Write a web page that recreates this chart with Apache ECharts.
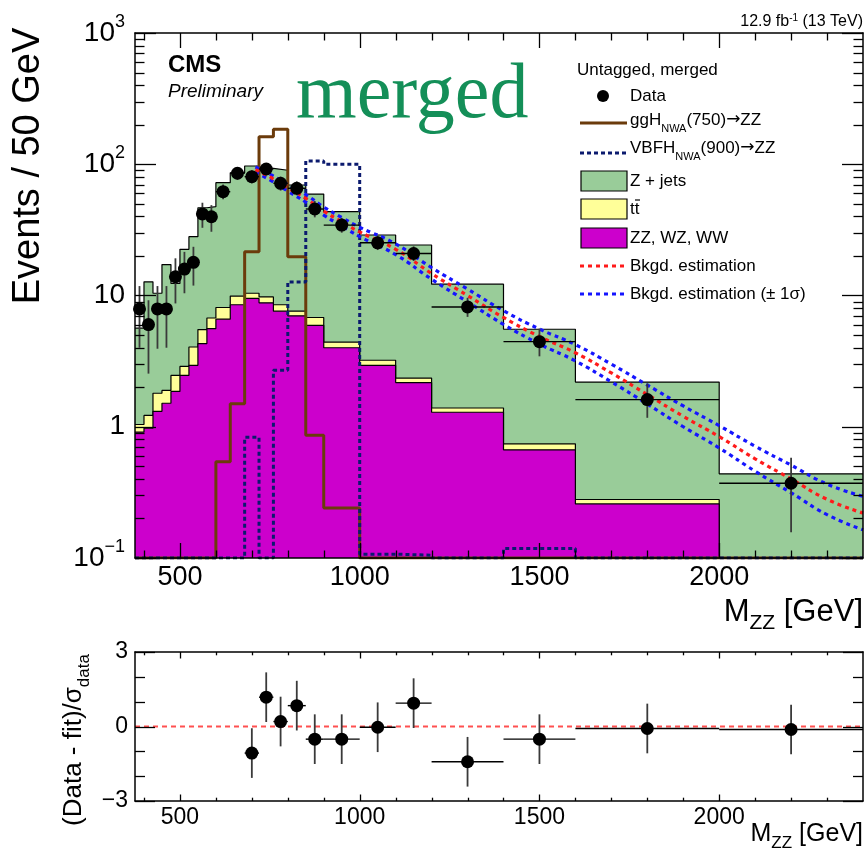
<!DOCTYPE html>
<html>
<head>
<meta charset="utf-8">
<script src="https://cdn.jsdelivr.net/npm/echarts@6/dist/echarts.min.js"></script>
<style>
  html, body { margin: 0; padding: 0; background: #fff; }
  #chart { width: 868px; height: 850px; }
</style>
</head>
<body>
<div id="chart"></div>
<script>
// ---- M_ZZ binning (GeV) ----
const binEdges = [375, 400, 425, 450, 475, 500, 525, 550, 575, 600, 640, 680, 720, 760, 800, 850, 900, 1000, 1100, 1200, 1400, 1600, 2000, 2400];

// ---- Stacked backgrounds, events / 50 GeV ----
const dibosonVV = [0.91, 0.975, 1.31, 1.51, 1.86, 2.46, 2.94, 4.3, 5.6, 6.6, 8.5, 9.5, 8.8, 7.6, 7.0, 5.93, 4.0, 2.94, 2.17, 1.29, 0.667, 0.258, 0];
const ttbar     = [0.13, 0.245, 0.49, 0.38, 0.6, 0.42, 1.11, 1.2, 1.14, 1.5, 1.4, 0.9, 0.95, 0.9, 0.6, 0.87, 0.42, 0.27, 0.18, 0.1, 0.074, 0.021, 0];
const zJets     = [4.6, 11.5, 8.6, 15.3, 9.9, 19.6, 24.0, 41.1, 40.8, 64.3, 76.1, 86.6, 83.3, 81.5, 61.9, 52.5, 39.1, 25.7, 21.9, 10.8, 4.79, 1.91, 0.438];

// ---- Signal templates ----
const ggH750  = [0, 0, 0, 0, 0, 0, 0, 0, 0, 0.54, 1.5, 21.5, 162, 185, 19.7, 0.86, 0.24, 0, 0, 0, 0, 0, 0];
const vbfH900 = [0, 0, 0, 0, 0, 0, 0, 0, 0, 0, 0, 0.83, 0, 2.69, 12.7, 106, 100, 0.107, 0.105, 0, 0.118, 0, 0];

// ---- Observed data (value, lower and upper end of the error bar) ----
const dataValue = [7.9, 6.0, 7.9, 7.9, 13.9, 15.9, 17.9, 41.8, 39.8, 61.8, 85.4, 80.4, 92, 71.6, 65.6, 45.6, 34.4, 25.2, 20.9, 8.18, 4.45, 1.61, 0.371];
const dataLow   = [4.0, 2.54, 3.93, 4.0, 8.7, 10.4, 11.9, 32.8, 30.6, 54, 76, 71.5, 82, 63, 58, 39.4, 30.1, 22.2, 18.3, 6.87, 3.44, 1.17, 0.157];
const dataHigh  = [11.8, 9.2, 11.8, 11.8, 19.2, 21.5, 23.5, 50.9, 48.8, 70, 95, 90, 102, 80.5, 74, 52.5, 39, 28.5, 23.7, 9.6, 5.6, 2.13, 0.58];

// ---- Background fit and its +/- 1 sigma envelope ----
const fitMass    = [710, 750, 800, 850, 900, 950, 1000, 1100, 1200, 1300, 1400, 1500, 1600, 1700, 1800, 1900, 2000, 2100, 2200, 2300, 2400];
const fitCentral = [91, 80, 66, 55, 44, 36.5, 30.5, 22.5, 14.7, 10.0, 6.8, 4.87, 3.66, 2.57, 1.76, 1.2, 0.84, 0.57, 0.40, 0.28, 0.22];
const fitUp      = [95.3, 84.2, 69.9, 58.7, 47.2, 39.3, 33.1, 24.7, 16.3, 11.2, 7.66, 5.55, 4.22, 3.0, 2.08, 1.44, 1.02, 0.71, 0.51, 0.366, 0.295];
const fitDown    = [86.9, 76.0, 62.3, 51.5, 41.0, 33.9, 28.1, 20.5, 13.3, 8.95, 6.03, 4.27, 3.17, 2.20, 1.49, 1.0, 0.69, 0.458, 0.314, 0.214, 0.164];

// ---- Pulls (Data - fit)/sigma_data ----
const pullLo   = [680, 720, 760, 800, 850, 900, 1000, 1100, 1200, 1400, 1600, 2000];
const pullHi   = [720, 760, 800, 850, 900, 1000, 1100, 1200, 1400, 1600, 2000, 2400];
const pullX    = [700, 740, 780, 825, 875, 950, 1050, 1150, 1300, 1500, 1800, 2200];
const pullVal  = [-1.07, 1.18, 0.2, 0.84, -0.51, -0.51, -0.03, 0.94, -1.42, -0.51, -0.08, -0.12];
const pullErr  = [1, 1, 1, 1, 1, 1, 1, 1, 1, 1, 1, 1];

// ---- Axis ranges and tick values ----
const X_MIN = 375, X_MAX = 2400;
const Y_MIN = 0.1, Y_MAX = 1000;
const xMajorTicks = [500, 1000, 1500, 2000];
const xMinorTicks = [400, 600, 700, 800, 900, 1100, 1200, 1300, 1400, 1600, 1700, 1800, 1900, 2100, 2200, 2300];
const yMajorTicks = [0.1, 1, 10, 100, 1000];
const yMinorMult  = [2, 3, 4, 5, 6, 7, 8, 9];
const pullMajorTicks = [-3, 0, 3];
const pullMinorTicks = [-2, -1, 1, 2];

const FONT = '"Liberation Sans", Arial, Helvetica, sans-serif';
const SERIF = '"Liberation Serif", "Times New Roman", "DejaVu Serif", serif';

const C_ZJ = '#99cc99', C_TT = '#ffff99', C_VV = '#cc00cc';
const C_GGH = '#6b3b0b', C_VBF = '#0b1a6e';
const C_FIT = '#ff1a1a', C_BAND = '#1515ff';

// step outline of a binned histogram, empty bins lie on the axis floor
function stepPoints(values) {
  const pts = [];
  values.forEach((v, i) => {
    const y = Math.max(v, Y_MIN);
    pts.push([binEdges[i], y], [binEdges[i + 1], y]);
  });
  return pts;
}

const stackVV = dibosonVV.slice();
const stackTT = dibosonVV.map((v, i) => v + ttbar[i]);
const stackZJ = stackTT.map((v, i) => v + zJets[i]);

function histSeries(name, values, fill, z) {
  return {
    type: 'line', name, xAxisIndex: 0, yAxisIndex: 0, z,
    data: stepPoints(values), symbol: 'none', showSymbol: false, silent: true,
    lineStyle: { color: '#000', width: 1.2 },
    areaStyle: { color: fill, opacity: 1, origin: 'start' }
  };
}

function lineSeries(name, points, color, width, type, smooth, z) {
  return {
    type: 'line', name, xAxisIndex: 0, yAxisIndex: 0, z,
    data: points, symbol: 'none', showSymbol: false, silent: true,
    smooth: smooth || false,
    lineStyle: { color, width, type: type || 'solid', cap: 'butt' }
  };
}

// tick marks drawn inside the frame on all four sides
function tickRenderer(lens) {
  return function (params, api) {
    const cs = params.coordSys;
    const kind = api.value(2);
    const p = api.coord([api.value(0), api.value(1)]);
    const L = lens[kind];
    const st = { stroke: '#000', lineWidth: 1.3 };
    if (kind < 2) {
      const x = Math.round(p[0]) + 0.5, yb = cs.y + cs.height, yt = cs.y;
      return { type: 'group', children: [
        { type: 'line', shape: { x1: x, y1: yb, x2: x, y2: yb - L }, style: st },
        { type: 'line', shape: { x1: x, y1: yt, x2: x, y2: yt + L }, style: st }
      ] };
    }
    const y = Math.round(p[1]) + 0.5, xl = cs.x, xr = cs.x + cs.width;
    return { type: 'group', children: [
      { type: 'line', shape: { x1: xl, y1: y, x2: xl + L, y2: y }, style: st },
      { type: 'line', shape: { x1: xr, y1: y, x2: xr - L, y2: y }, style: st }
    ] };
  };
}

function errorBarRenderer(params, api) {
  const xc = api.value(0), v = api.value(1);
  const lo = api.coord([xc, api.value(2)]);
  const hi = api.coord([xc, api.value(3)]);
  const l = api.coord([api.value(4), v]);
  const r = api.coord([api.value(5), v]);
  return { type: 'group', children: [
    { type: 'line', shape: { x1: lo[0], y1: lo[1], x2: hi[0], y2: hi[1] }, style: { stroke: '#3a3a3a', lineWidth: 1.8 } },
    { type: 'line', shape: { x1: l[0], y1: l[1], x2: r[0], y2: r[1] }, style: { stroke: '#000', lineWidth: 1.4 } }
  ] };
}

const mainTicks = [];
xMajorTicks.forEach(v => mainTicks.push([v, 1, 0]));
xMinorTicks.forEach(v => mainTicks.push([v, 1, 1]));
yMajorTicks.forEach(v => mainTicks.push([1000, v, 2]));
yMajorTicks.slice(0, -1).forEach(d => yMinorMult.forEach(k => mainTicks.push([1000, +(k * d).toPrecision(3), 3])));

const pullTicks = [];
xMajorTicks.forEach(v => pullTicks.push([v, 0, 0]));
xMinorTicks.forEach(v => pullTicks.push([v, 0, 1]));
pullMajorTicks.forEach(v => pullTicks.push([1000, v, 2]));
pullMinorTicks.forEach(v => pullTicks.push([1000, v, 3]));

const centers = binEdges.slice(0, -1).map((e, i) => (e + binEdges[i + 1]) / 2);
const dataRows = dataValue.map((v, i) => [centers[i], v, dataLow[i], dataHigh[i], binEdges[i], binEdges[i + 1]]);
const pullRows = pullVal.map((v, i) => [pullX[i], v, v - pullErr[i], v + pullErr[i], pullLo[i], pullHi[i]]);
const pairs = (xs, ys) => xs.map((x, i) => [x, ys[i]]);

function powLabel(v) {
  const e = Math.round(Math.log10(v));
  if (e === 0) return '1';
  if (e === 1) return '10';
  return '10{sup|' + (e < 0 ? '\u2212' + (-e) : e) + '}';
}

const frameLine = { show: true, onZero: false, lineStyle: { color: '#000', width: 1.5 } };

function xAxisCfg(gridIndex, position, labels) {
  return {
    type: 'value', gridIndex, position, min: X_MIN, max: X_MAX, z: 10,
    axisLine: frameLine, axisTick: { show: false }, splitLine: { show: false },
    axisLabel: labels ? Object.assign({
      customValues: xMajorTicks,
      formatter: v => (v % 500 === 0 ? String(v) : ''),
      color: '#000', fontFamily: FONT
    }, labels) : { show: false }
  };
}

// ---- text helpers ----
function txt(x, y, text, style, extra) {
  const s = Object.assign({ text, fill: '#000', fontFamily: FONT, fontSize: 17 }, style);
  s.textAlign = s.align = s.align || 'left';
  s.textVerticalAlign = s.verticalAlign = s.verticalAlign || 'middle';
  return Object.assign({ type: 'text', x, y, z: 20, silent: true, style: s }, extra);
}
function subRich(size) {
  return { sub: { fontSize: size, lineHeight: size, verticalAlign: 'bottom', fontFamily: FONT, fill: '#000' } };
}
const legendRich = Object.assign(subRich(11), {
  arr: { fontSize: 17, fontFamily: '"DejaVu Sans", sans-serif', fill: '#000' }
});

// ---- legend ----
const LX0 = 580, LX1 = 627, LTX = 630;
const rowY = [96, 124, 152, 181, 209, 238, 266, 294];
const legendItems = [
  txt(577, 70, 'Untagged, merged'),
  { type: 'circle', z: 20, silent: true, shape: { cx: 603, cy: rowY[0], r: 6 }, style: { fill: '#000' } },
  txt(LTX, rowY[0], 'Data'),
  { type: 'line', z: 20, silent: true, shape: { x1: LX0, y1: rowY[1] - 1, x2: LX1, y2: rowY[1] - 1 }, style: { stroke: C_GGH, lineWidth: 3 } },
  txt(LTX, rowY[1] - 4, 'ggH{sub|NWA}(750){arr|\u2192}ZZ', { lineHeight: 28, rich: legendRich }),
  { type: 'line', z: 20, silent: true, shape: { x1: LX0, y1: rowY[2] + 1, x2: LX1, y2: rowY[2] + 1 }, style: { stroke: C_VBF, lineWidth: 3, lineDash: [4, 3] } },
  txt(LTX, rowY[2] - 4, 'VBFH{sub|NWA}(900){arr|\u2192}ZZ', { lineHeight: 28, rich: legendRich }),
  { type: 'rect', z: 20, silent: true, shape: { x: LX0 + 1, y: rowY[3] - 10, width: 46, height: 20 }, style: { fill: C_ZJ, stroke: '#000', lineWidth: 1.2 } },
  txt(LTX, rowY[3], 'Z + jets'),
  { type: 'rect', z: 20, silent: true, shape: { x: LX0 + 1, y: rowY[4] - 10, width: 46, height: 20 }, style: { fill: C_TT, stroke: '#000', lineWidth: 1.2 } },
  txt(LTX, rowY[4], 'tt'),
  { type: 'line', z: 20, silent: true, shape: { x1: 635, y1: 200, x2: 640, y2: 200 }, style: { stroke: '#000', lineWidth: 1.2 } },
  { type: 'rect', z: 20, silent: true, shape: { x: LX0 + 1, y: rowY[5] - 10, width: 46, height: 20 }, style: { fill: C_VV, stroke: '#000', lineWidth: 1.2 } },
  txt(LTX, rowY[5], 'ZZ, WZ, WW'),
  { type: 'line', z: 20, silent: true, shape: { x1: LX0, y1: rowY[6], x2: LX1, y2: rowY[6] }, style: { stroke: C_FIT, lineWidth: 3, lineDash: [4, 4] } },
  txt(LTX, rowY[6], 'Bkgd. estimation'),
  { type: 'line', z: 20, silent: true, shape: { x1: LX0, y1: rowY[7], x2: LX1, y2: rowY[7] }, style: { stroke: C_BAND, lineWidth: 3, lineDash: [4, 4] } },
  txt(LTX, rowY[7], 'Bkgd. estimation (\u00b1 1\u03c3)')
];

const annotations = [
  txt(863, 22, '12.9 fb{sup|-1} (13 TeV)', { align: 'right', fontSize: 16, lineHeight: 18,
    rich: { sup: { fontSize: 10, lineHeight: 10, verticalAlign: 'top', fontFamily: FONT, fill: '#000' } } }),
  txt(168, 65, 'CMS', { fontSize: 24, fontWeight: 'bold' }),
  txt(168, 92, 'Preliminary', { fontSize: 19, fontStyle: 'italic' }),
  txt(296, 97, 'merged', { fontSize: 78, fontFamily: SERIF, fill: '#148f58' }),
  txt(29, 166, 'Events / 50 GeV', { fontSize: 38, align: 'center' }, { rotation: Math.PI / 2 }),
  txt(863, 612, 'M{sub|ZZ} [GeV]', { fontSize: 31, align: 'right', lineHeight: 44, rich: subRich(21) }),
  txt(74, 740, '(Data - fit)/\u03c3{sub|data}', { fontSize: 26, align: 'center', lineHeight: 38, rich: subRich(17) }, { rotation: Math.PI / 2 }),
  txt(863, 834, 'M{sub|ZZ} [GeV]', { fontSize: 25, align: 'right', lineHeight: 36, rich: subRich(17) })
];

const option = {
  animation: false,
  backgroundColor: '#fff',
  grid: [
    { left: 135, top: 33, width: 728, height: 525 },
    { left: 135, top: 652, width: 728, height: 149 }
  ],
  xAxis: [
    xAxisCfg(0, 'bottom', { fontSize: 27, margin: 6 }),
    xAxisCfg(0, 'top', null),
    xAxisCfg(1, 'bottom', { fontSize: 23, margin: 5 }),
    xAxisCfg(1, 'top', null)
  ],
  yAxis: [
    {
      type: 'log', logBase: 10, gridIndex: 0, position: 'left', min: Y_MIN, max: Y_MAX, z: 10,
      axisLine: frameLine, axisTick: { show: false }, splitLine: { show: false },
      axisLabel: {
        formatter: powLabel, color: '#000', fontFamily: FONT, fontSize: 28, lineHeight: 40, margin: 10,
        rich: { sup: { fontSize: 18, lineHeight: 18, verticalAlign: 'top', fontFamily: FONT, color: '#000' } }
      }
    },
    {
      type: 'log', logBase: 10, gridIndex: 0, position: 'right', min: Y_MIN, max: Y_MAX, z: 10,
      axisLine: frameLine, axisTick: { show: false }, splitLine: { show: false }, axisLabel: { show: false }
    },
    {
      type: 'value', gridIndex: 1, position: 'left', min: -3, max: 3, interval: 3, z: 10,
      axisLine: frameLine, axisTick: { show: false }, splitLine: { show: false },
      axisLabel: { formatter: v => (v < 0 ? '\u2212' + (-v) : String(v)), color: '#000', fontFamily: FONT, fontSize: 23, margin: 7 }
    },
    {
      type: 'value', gridIndex: 1, position: 'right', min: -3, max: 3, interval: 3, z: 10,
      axisLine: frameLine, axisTick: { show: false }, splitLine: { show: false }, axisLabel: { show: false }
    }
  ],
  series: [
    histSeries('Z + jets', stackZJ, C_ZJ, 1),
    histSeries('tt', stackTT, C_TT, 2),
    histSeries('ZZ, WZ, WW', stackVV, C_VV, 3),
    lineSeries('ggH(750)', stepPoints(ggH750), C_GGH, 3, 'solid', false, 4),
    lineSeries('VBFH(900)', stepPoints(vbfH900), C_VBF, 3, [4, 3], false, 5),
    lineSeries('fit -1 sigma', pairs(fitMass, fitDown), C_BAND, 3.2, [4, 4], true, 6),
    lineSeries('fit +1 sigma', pairs(fitMass, fitUp), C_BAND, 3.2, [4, 4], true, 6),
    lineSeries('fit', pairs(fitMass, fitCentral), C_FIT, 3.2, [4, 4], true, 7),
    {
      type: 'custom', name: 'data errors', xAxisIndex: 0, yAxisIndex: 0, silent: true, z: 8,
      encode: { x: 0, y: 1 }, data: dataRows, renderItem: errorBarRenderer
    },
    {
      type: 'scatter', name: 'Data', xAxisIndex: 0, yAxisIndex: 0, silent: true, z: 9,
      symbol: 'circle', symbolSize: 13, itemStyle: { color: '#000', opacity: 1 },
      data: pairs(centers, dataValue)
    },
    {
      type: 'custom', name: 'main ticks', xAxisIndex: 0, yAxisIndex: 0, silent: true, z: 10,
      encode: { x: 0, y: 1 }, data: mainTicks, renderItem: tickRenderer([15, 7.5, 21, 9.5])
    },
    // pull panel
    {
      type: 'line', name: 'zero', xAxisIndex: 2, yAxisIndex: 2, silent: true, symbol: 'none', showSymbol: false, z: 3,
      data: [[X_MIN, 0], [X_MAX, 0]], lineStyle: { color: '#ff5050', width: 1.8, type: [5, 4] }
    },
    {
      type: 'custom', name: 'pull errors', xAxisIndex: 2, yAxisIndex: 2, silent: true, z: 8,
      encode: { x: 0, y: 1 }, data: pullRows, renderItem: errorBarRenderer
    },
    {
      type: 'scatter', name: 'pull', xAxisIndex: 2, yAxisIndex: 2, silent: true, z: 9,
      symbol: 'circle', symbolSize: 13, itemStyle: { color: '#000', opacity: 1 },
      data: pairs(pullX, pullVal)
    },
    {
      type: 'custom', name: 'pull ticks', xAxisIndex: 2, yAxisIndex: 2, silent: true, z: 10,
      encode: { x: 0, y: 1 }, data: pullTicks, renderItem: tickRenderer([6.5, 3.3, 20, 10])
    }
  ],
  graphic: annotations.concat(legendItems)
};

const chart = echarts.init(document.getElementById('chart'), null, { renderer: 'canvas' });
chart.setOption(option);
</script>
</body>
</html>
